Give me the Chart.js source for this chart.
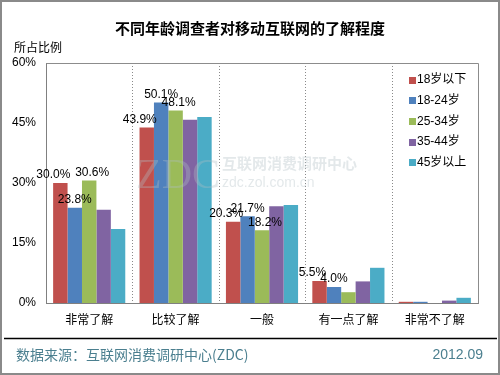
<!DOCTYPE html>
<html>
<head>
<meta charset="utf-8">
<script src="https://cdn.jsdelivr.net/npm/chart.js@4/dist/chart.umd.min.js"></script>
<style>
html,body{margin:0;padding:0;background:#fff;}
#wrap{width:500px;height:375px;position:relative;}
canvas{display:block;}
</style>
</head>
<body>
<div id="wrap"><canvas id="c" width="500" height="375"></canvas></div>
<script>
// ---- data ----
const categories = ["非常了解", "比较了解", "一般", "有一点了解", "非常不了解"];
const seriesNames = ["18岁以下", "18-24岁", "25-34岁", "35-44岁", "45岁以上"];
const under18   = [30.0, 43.9, 20.3, 5.5, 0.3];
const age18to24 = [23.8, 50.1, 21.7, 4.0, 0.3];
const age25to34 = [30.6, 48.1, 18.2, 2.7, 0.0];
const age35to44 = [23.3, 45.8, 24.2, 5.4, 0.6];
const age45plus = [18.5, 46.5, 24.5, 8.8, 1.3];
const yTicks = [0, 15, 30, 45, 60];
const labeledCount = [4, 4, 3, 0, 0]; // how many leading categories show value labels per series
const titleText = "不同年龄调查者对移动互联网的了解程度";
const yTitle = "所占比例";
const sourceText = "数据来源：互联网消费调研中心(ZDC)";
const dateText = "2012.09";

const colors = ["#C0504D", "#4F81BD", "#9BBB59", "#8064A2", "#4BACC6"];
const labelShift = [-7, 0, 3, 0, 0];
const seriesValues = [under18, age18to24, age25to34, age35to44, age45plus];

const FONT = '"Liberation Sans", "Noto Sans CJK SC", sans-serif';
const CJK = '"Noto Sans CJK SC", "Liberation Sans", sans-serif';

const decor = {
  id: 'decor',
  beforeDraw(chart) {
    const ctx = chart.ctx;
    ctx.save();
    ctx.fillStyle = '#fff';
    ctx.fillRect(0, 0, chart.width, chart.height);
    ctx.restore();
  },
  beforeDatasetsDraw(chart) {
    const ctx = chart.ctx, a = chart.chartArea, xs = chart.scales.x;
    ctx.save();
    // dotted category dividers
    ctx.strokeStyle = '#8a8a8a';
    ctx.lineWidth = 1;
    ctx.setLineDash([1, 2]);
    for (let i = 0; i < categories.length - 1; i++) {
      const x = Math.round((xs.getPixelForTick(i) + xs.getPixelForTick(i + 1)) / 2) + 0.5;
      ctx.beginPath(); ctx.moveTo(x, a.top); ctx.lineTo(x, a.bottom); ctx.stroke();
    }
    ctx.setLineDash([]);
    // plot area top/right border
    ctx.strokeStyle = '#8c8c8c';
    ctx.beginPath();
    ctx.moveTo(Math.round(a.left) + 0.5, Math.round(a.top) + 0.5);
    ctx.lineTo(Math.round(a.right) + 0.5, Math.round(a.top) + 0.5);
    ctx.lineTo(Math.round(a.right) + 0.5, Math.round(a.bottom) + 0.5);
    ctx.stroke();
    ctx.restore();
  },
  afterDatasetsDraw(chart) {
    const ctx = chart.ctx, a = chart.chartArea;
    ctx.save();
    // value labels
    ctx.font = '12px ' + FONT;
    ctx.fillStyle = '#000';
    ctx.textAlign = 'center';
    ctx.textBaseline = 'bottom';
    chart.data.datasets.forEach((ds, di) => {
      const meta = chart.getDatasetMeta(di);
      meta.data.forEach((el, i) => {
        if (i < labeledCount[di]) {
          ctx.fillText(ds.data[i].toFixed(1) + '%', el.x + labelShift[di], el.y - 2);
        }
      });
    });
    // watermark
    ctx.fillStyle = 'rgba(175,190,196,0.35)';
    ctx.textAlign = 'left';
    ctx.textBaseline = 'alphabetic';
    ctx.font = '42px "Liberation Serif", serif';
    ctx.fillText('ZDC', 136, 188);
    ctx.font = 'bold 15px ' + CJK;
    ctx.fillText('互联网消费调研中心', 222, 169);
    ctx.font = '14px ' + FONT;
    ctx.fillText('zdc.zol.com.cn', 222, 187);
    // legend
    ctx.textBaseline = 'middle';
    ctx.font = '12px ' + FONT;
    chart.data.datasets.forEach((ds, di) => {
      const y = 80 + di * 20.7;
      ctx.fillStyle = ds.backgroundColor;
      ctx.fillRect(409, Math.round(y - 3.5), 7, 7);
      ctx.fillStyle = '#000';
      ctx.fillText(ds.label, 417, y);
    });
    ctx.restore();
  },
  afterDraw(chart) {
    const ctx = chart.ctx;
    ctx.save();
    // title
    ctx.fillStyle = '#000';
    ctx.textAlign = 'center';
    ctx.textBaseline = 'middle';
    ctx.font = 'bold 15px ' + CJK;
    ctx.fillText(titleText, 250, 28);
    // y axis title
    ctx.textAlign = 'left';
    ctx.font = '12px ' + CJK;
    ctx.fillText(yTitle, 14, 47);
    // footer line
    ctx.strokeStyle = '#000';
    ctx.lineWidth = 1.5;
    ctx.beginPath(); ctx.moveTo(4, 338.5); ctx.lineTo(497, 338.5); ctx.stroke();
    // footer texts
    ctx.fillStyle = '#4b7f8f';
    ctx.font = '14px ' + CJK;
    ctx.fillText(sourceText, 16, 355);
    ctx.textAlign = 'right';
    ctx.font = '14px ' + FONT;
    ctx.fillText(dateText, 483, 355);
    // outer frame
    ctx.strokeStyle = '#8a8a8a';
    ctx.lineWidth = 2;
    ctx.strokeRect(1, 1, 498, 373);
    ctx.restore();
  }
};

new Chart(document.getElementById('c'), {
  type: 'bar',
  data: {
    labels: categories,
    datasets: seriesNames.map((name, i) => ({
      label: name,
      data: seriesValues[i],
      backgroundColor: colors[i],
      borderWidth: 0,
      categoryPercentage: 0.835,
      barPercentage: 1.0
    }))
  },
  options: {
    responsive: false,
    animation: false,
    devicePixelRatio: 1,
    layout: { padding: { top: 63, right: 22, left: 0, bottom: 0 } },
    plugins: { legend: { display: false }, tooltip: { enabled: false }, title: { display: false } },
    scales: {
      x: {
        grid: { display: false, drawTicks: false },
        border: { display: true, color: '#808080', width: 1 },
        ticks: { color: '#000', font: { size: 12, family: CJK }, padding: 9, maxRotation: 0, autoSkip: false },
        afterFit(s) { s.height = 72; }
      },
      y: {
        min: 0, max: 60,
        afterBuildTicks(s) { s.ticks = yTicks.map(v => ({ value: v })); },
        grid: { display: false, drawTicks: false },
        border: { display: true, color: '#808080', width: 1 },
        ticks: { color: '#000', font: { size: 12, family: FONT }, padding: 10, callback: v => v + '%' },
        afterFit(s) { s.width = 46; }
      }
    }
  },
  plugins: [decor]
});
</script>
</body>
</html>
